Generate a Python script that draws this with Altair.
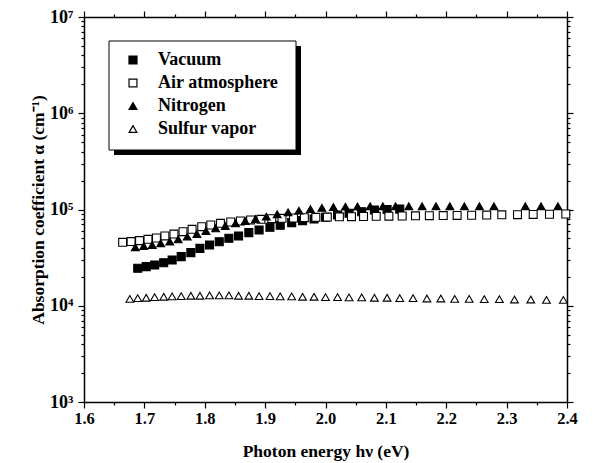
import altair as alt
import pandas as pd

# ---------------- data ----------------
series_names = ["Vacuum", "Air atmosphere", "Nitrogen", "Sulfur vapor"]

energy_vacuum = [1.689, 1.703, 1.717, 1.732, 1.746, 1.761, 1.777, 1.792, 1.808, 1.824,
                 1.840, 1.856, 1.873, 1.890, 1.908, 1.925, 1.944, 1.962, 1.981, 2.000,
                 2.020, 2.039, 2.060, 2.081, 2.102, 2.123]
alpha_vacuum = [24500, 25500, 26500, 28000, 29900, 32400, 35600, 39500, 42800, 46300,
                50200, 53100, 57500, 61300, 65300, 68500, 73000, 76600, 79700, 83000,
                87700, 91300, 94900, 98800, 100000, 101000]

energy_air = [1.664, 1.678, 1.692, 1.706, 1.720, 1.734, 1.749, 1.764, 1.779, 1.795,
              1.810, 1.826, 1.843, 1.859, 1.876, 1.893, 1.911, 1.928, 1.947, 1.965,
              1.984, 2.003, 2.023, 2.043, 2.063, 2.084, 2.105, 2.127, 2.149, 2.172,
              2.195, 2.218, 2.242, 2.267, 2.292, 2.318, 2.344, 2.371, 2.398]
alpha_air = [45600, 46400, 47500, 49000, 50600, 53100, 55600, 58800, 62200, 66300,
             69000, 71900, 74200, 76000, 77900, 79100, 80300, 81000, 81600, 82300,
             83000, 83500, 84000, 84300, 84600, 85000, 85300, 85600, 85900, 86200,
             86500, 86800, 87200, 87600, 88000, 88400, 88800, 89300, 89800]

energy_nitrogen = [1.685, 1.699, 1.713, 1.727, 1.742, 1.756, 1.771, 1.787, 1.802, 1.818,
                   1.834, 1.851, 1.867, 1.884, 1.902, 1.920, 1.938, 1.956, 1.975, 1.994,
                   2.013, 2.033, 2.053, 2.074, 2.095, 2.116, 2.138, 2.160, 2.183, 2.206,
                   2.230, 2.255, 2.279, 2.331, 2.357, 2.385]
alpha_nitrogen = [40500, 41800, 42800, 44600, 46400, 49000, 52200, 55600, 59800, 63800,
                  67400, 71900, 76000, 79700, 84300, 89200, 93500, 97300, 101000, 104000,
                  106000, 107000, 107500, 108000, 108000, 108000, 108000, 108000, 108000, 108000,
                  108000, 108000, 108000, 108000, 108000, 108000]

energy_sulfur = [1.676, 1.689, 1.703, 1.717, 1.732, 1.746, 1.761, 1.777, 1.792, 1.808,
                 1.824, 1.840, 1.856, 1.873, 1.890, 1.908, 1.925, 1.944, 1.962, 1.981,
                 2.000, 2.020, 2.039, 2.060, 2.081, 2.102, 2.123, 2.145, 2.168, 2.191,
                 2.214, 2.238, 2.263, 2.288, 2.313, 2.340, 2.366, 2.394]
alpha_sulfur = [11800, 12000, 12100, 12300, 12400, 12500, 12600, 12700, 12700, 12800,
                12800, 12800, 12700, 12700, 12600, 12600, 12500, 12500, 12400, 12400,
                12300, 12300, 12200, 12200, 12100, 12100, 12000, 12000, 11900, 11900,
                11800, 11800, 11700, 11700, 11600, 11600, 11500, 11500]

x_tick_values = [1.6, 1.65, 1.7, 1.75, 1.8, 1.85, 1.9, 1.95, 2.0, 2.05,
                 2.1, 2.15, 2.2, 2.25, 2.3, 2.35, 2.4]
y_tick_values = [1e3, 2e3, 3e3, 4e3, 5e3, 6e3, 7e3, 8e3, 9e3,
                 1e4, 2e4, 3e4, 4e4, 5e4, 6e4, 7e4, 8e4, 9e4,
                 1e5, 2e5, 3e5, 4e5, 5e5, 6e5, 7e5, 8e5, 9e5,
                 1e6, 2e6, 3e6, 4e6, 5e6, 6e6, 7e6, 8e6, 9e6, 1e7]

marker_shapes = ["square", "square", "triangle-up", "triangle-up"]
marker_fills = ["black", "white", "black", "white"]
marker_strokes = ["black", "black", "black", "black"]
marker_sizes = [64, 60, 140, 110]

# ---------------- table ----------------
rows = []
for name, xs, ys in [
    (series_names[0], energy_vacuum, alpha_vacuum),
    (series_names[1], energy_air, alpha_air),
    (series_names[2], energy_nitrogen, alpha_nitrogen),
    (series_names[3], energy_sulfur, alpha_sulfur),
]:
    for xv, yv in zip(xs, ys):
        rows.append({"series": name, "energy": xv, "alpha": yv})
df = pd.DataFrame(rows)

FONT = "Liberation Serif"

is_major_x = "abs(datum.value*10 - round(datum.value*10)) < 0.001"
is_decade = "abs(log(datum.value)/LN10 - round(log(datum.value)/LN10)) < 0.001"
sup = "['\u2070','\u00b9','\u00b2','\u00b3','\u2074','\u2075','\u2076','\u2077','\u2078','\u2079']"
x_label_expr = f"({is_major_x}) ? format(datum.value, '.1f') : ''"
y_label_expr = f"({is_decade}) ? '10' + {sup}[round(log(datum.value)/LN10)] : ''"

x_tick_size = {"condition": {"test": is_major_x, "value": 6}, "value": 3}
y_tick_size = {"condition": {"test": is_decade, "value": 6}, "value": 3}

x_scale = alt.Scale(domain=[1.6, 2.4], nice=False, zero=False)
y_scale = alt.Scale(type="log", domain=[1e3, 1e7], nice=False)

axis_common = dict(grid=False, domainColor="black", domainWidth=1.5,
                   tickColor="black", tickWidth=1.2,
                   labelFont=FONT, labelFontWeight="bold",
                   labelColor="black", titleFont=FONT, titleFontSize=17.5,
                   titleFontWeight="bold", titleColor="black")

x_axis_bottom = alt.Axis(values=x_tick_values, labelExpr=x_label_expr,
                         tickSize=x_tick_size, labelPadding=2, labelFontSize=16.5,
                         title="Photon energy h\u03bd (eV)", titlePadding=16,
                         labelFlush=False, labelOverlap=False, **axis_common)
y_axis_left = alt.Axis(values=y_tick_values, labelExpr=y_label_expr,
                       tickSize=y_tick_size, labelPadding=5, labelFontSize=18,
                       title="Absorption coefficient  \u03b1 (cm\u207b\u00b9)",
                       titlePadding=2, labelOverlap=False, labelFlush=False,
                       **axis_common)
x_axis_top = alt.Axis(orient="top", values=x_tick_values, labels=False, title=None,
                      tickSize=x_tick_size, grid=False, domainColor="black",
                      domainWidth=1.5, tickColor="black", tickWidth=1.2)
y_axis_right = alt.Axis(orient="right", values=y_tick_values, labels=False, title=None,
                        tickSize=y_tick_size, grid=False, domainColor="black",
                        domainWidth=1.5, tickColor="black", tickWidth=1.2)

legend = alt.Legend(orient="none", legendX=40, legendY=34, title=None,
                    labelFont=FONT, labelFontSize=18, labelFontWeight="bold",
                    labelColor="black", symbolStrokeColor="black",
                    symbolStrokeWidth=1.2, rowPadding=5, labelOffset=16,
                    padding=0, symbolOpacity=1)

one = pd.DataFrame({"k": [0]})

shadow = alt.Chart(one).mark_rect(color="black").encode(
    x=alt.value(30), x2=alt.value(217), y=alt.value(29), y2=alt.value(138))
box = alt.Chart(one).mark_rect(fill="white", stroke="black", strokeWidth=1).encode(
    x=alt.value(25), x2=alt.value(212), y=alt.value(24), y2=alt.value(133))

points = alt.Chart(df).mark_point(filled=True, strokeWidth=1.1, opacity=1).encode(
    x=alt.X("energy:Q", scale=x_scale, axis=x_axis_bottom),
    y=alt.Y("alpha:Q", scale=y_scale, axis=y_axis_left),
    shape=alt.Shape("series:N", scale=alt.Scale(domain=series_names, range=marker_shapes),
                    legend=legend),
    fill=alt.Fill("series:N", scale=alt.Scale(domain=series_names, range=marker_fills),
                  legend=legend),
    stroke=alt.Stroke("series:N", scale=alt.Scale(domain=series_names, range=marker_strokes),
                      legend=legend),
    size=alt.Size("series:N", scale=alt.Scale(domain=series_names, range=marker_sizes),
                  legend=legend),
)

frame = alt.Chart(df).mark_point(opacity=0).encode(
    x=alt.X("energy:Q", scale=x_scale, axis=x_axis_top),
    y=alt.Y("alpha:Q", scale=y_scale, axis=y_axis_right),
)

chart = alt.layer(shadow, box, points, frame).resolve_axis(
    x="independent", y="independent"
).properties(
    width=483, height=385,
    padding={"left": 84, "top": 17, "right": 33, "bottom": 61},
    autosize=alt.AutoSizeParams(type="none"),
    background="white",
).configure_view(stroke=None)

chart.save("out.html", embed_options={"renderer": "svg", "actions": False})
